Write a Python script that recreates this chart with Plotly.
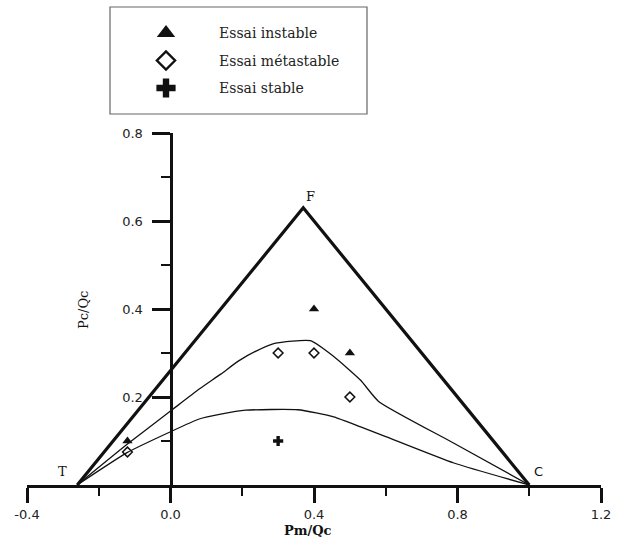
import plotly.graph_objects as go

# ---- data -------------------------------------------------------------
# Boundary triangle (T - F - C) in the Pm/Qc - Pc/Qc plane
tri_x = [-0.26, 0.37, 1.00]
tri_y = [0.00, 0.63, 0.00]
tri_labels = ["T", "F", "C"]

# Upper thin curve (métastable / instable limit)
upper_x = [-0.26, -0.12, 0.00, 0.08, 0.14, 0.19, 0.24, 0.29, 0.39, 0.455, 0.53, 0.58, 0.79, 1.00]
upper_y = [0.000, 0.093, 0.168, 0.218, 0.252, 0.282, 0.305, 0.322, 0.328, 0.292, 0.238, 0.190, 0.095, 0.000]

# Lower thin curve (stable / métastable limit)
lower_x = [-0.26, -0.12, 0.00, 0.08, 0.14, 0.21, 0.355, 0.455, 0.53, 0.60, 0.79, 1.00]
lower_y = [0.000, 0.074, 0.121, 0.150, 0.161, 0.170, 0.171, 0.155, 0.132, 0.110, 0.050, 0.000]

# Test results
instable_x = [-0.12, 0.40, 0.50]
instable_y = [0.10, 0.40, 0.30]
metastable_x = [-0.12, 0.30, 0.40, 0.50]
metastable_y = [0.075, 0.30, 0.30, 0.20]
stable_x = [0.30]
stable_y = [0.10]

series_names = ["Essai instable", "Essai métastable", "Essai stable"]

# Axis ticks
x_ticks = [-0.4, 0.0, 0.4, 0.8, 1.2]
x_tick_text = ["-0.4", "0.0", "0.4", "0.8", "1.2"]
x_minor = [-0.2, 0.2, 0.6, 1.0]
y_ticks = [0.2, 0.4, 0.6, 0.8]
y_tick_text = ["0.2", "0.4", "0.6", "0.8"]
y_minor = [0.1, 0.3, 0.5, 0.7]

# ---- figure geometry (pixels) ------------------------------------------
W, H = 617, 538
AX_LEFT, AX_RIGHT = 27, 601      # x = -0.4 ... 1.2
AX_BOTTOM, AX_TOP = 485, 133     # y = 0 ... 0.8
Y_AXIS_PX = 170.5                # where x = 0 sits

INK = "#111111"
TICK_FONT = dict(family="DejaVu Sans", size=13, color="#222222")
SERIF = "DejaVu Serif"

styles = {
    "Essai instable": dict(symbol="triangle-up", color=INK, size=9, line=dict(width=0)),
    "Essai métastable": dict(symbol="diamond-open", color=INK, size=7.5, line=dict(width=1.5, color=INK)),
    "Essai stable": dict(symbol="cross", color=INK, size=8.5, line=dict(width=0)),
}

fig = go.Figure()

# Thick outer triangle T-F-C
fig.add_trace(go.Scatter(x=tri_x, y=tri_y, mode="lines",
                         line=dict(color=INK, width=3.2), hoverinfo="skip",
                         showlegend=False))
# Thin limit curves
for cx, cy in [(upper_x, upper_y), (lower_x, lower_y)]:
    fig.add_trace(go.Scatter(x=cx, y=cy, mode="lines",
                             line=dict(color=INK, width=1.3, shape="spline",
                                       smoothing=0.5),
                             hoverinfo="skip", showlegend=False))

# Test points
for name, xs, ys in [("Essai instable", instable_x, instable_y),
                     ("Essai métastable", metastable_x, metastable_y),
                     ("Essai stable", stable_x, stable_y)]:
    fig.add_trace(go.Scatter(x=xs, y=ys, mode="markers", name=name,
                             marker=styles[name], showlegend=False,
                             cliponaxis=False))

# Vertex labels
label_offsets = {"T": (-0.04, 0.03), "F": (0.02, 0.025), "C": (0.027, 0.03)}
for lab, vx, vy in zip(tri_labels, tri_x, tri_y):
    dx, dy = label_offsets[lab]
    fig.add_annotation(x=vx + dx, y=vy + dy, text=lab, showarrow=False,
                       font=dict(family=SERIF if lab != "C" else "DejaVu Sans",
                                 size=13, color=INK),
                       xanchor="center", yanchor="middle")

# ---- legend block drawn in pixel space ---------------------------------
LEG_BOX = (110, 7, 367, 114)
LEG_SYM_X, LEG_TEXT_X, LEG_ROW0, LEG_ROW_GAP = 166, 217, 33, 27.5
leg_rows = [LEG_ROW0 + i * LEG_ROW_GAP for i in range(len(series_names))]

fig.add_shape(type="rect", xref="paper", yref="paper",
              x0=LEG_BOX[0] / W, x1=LEG_BOX[2] / W,
              y0=1 - LEG_BOX[3] / H, y1=1 - LEG_BOX[1] / H,
              line=dict(color="#666666", width=1.2), fillcolor="rgba(0,0,0,0)")

for name, ry in zip(series_names, leg_rows):
    st = dict(styles[name])
    st["size"] = 16
    if name == "Essai métastable":
        st["size"] = 14
        st["line"] = dict(width=2.4, color=INK)
    fig.add_trace(go.Scatter(x=[LEG_SYM_X], y=[ry], mode="markers",
                             marker=st, xaxis="x2", yaxis="y2",
                             showlegend=False, hoverinfo="skip",
                             cliponaxis=False))
    fig.add_annotation(xref="paper", yref="paper", x=LEG_TEXT_X / W, y=1 - ry / H,
                       text=name, showarrow=False, xanchor="left", yanchor="middle",
                       font=dict(family=SERIF, size=14, color="#222222"))

# Axis titles
fig.add_annotation(xref="paper", yref="paper", x=83 / W, y=1 - 310 / H,
                   text="Pc/Qc", textangle=-90, showarrow=False,
                   font=dict(family=SERIF, size=13, color=INK),
                   xanchor="center", yanchor="middle")
fig.add_annotation(xref="paper", yref="paper", x=308 / W, y=1 - 530 / H,
                   text="<b>Pm/Qc</b>", showarrow=False,
                   font=dict(family=SERIF, size=13, color=INK),
                   xanchor="center", yanchor="middle")

fig.update_layout(
    width=W, height=H,
    margin=dict(l=0, r=0, t=0, b=0, pad=0),
    paper_bgcolor="white", plot_bgcolor="rgba(0,0,0,0)",
    showlegend=False,
    xaxis=dict(domain=[AX_LEFT / W, AX_RIGHT / W], range=[-0.4, 1.2],
               anchor="y", showline=True, linewidth=3, linecolor=INK,
               ticks="outside", ticklen=15, tickwidth=2.5, tickcolor=INK,
               tickvals=x_ticks, ticktext=x_tick_text, tickfont=TICK_FONT,
               ticklabelstandoff=0,
               minor=dict(tickvals=x_minor, ticks="outside", ticklen=8,
                          tickwidth=2, tickcolor=INK, showgrid=False),
               showgrid=False, zeroline=False, automargin=False),
    yaxis=dict(domain=[(H - AX_BOTTOM) / H, (H - AX_TOP) / H], range=[0, 0.8],
               anchor="free", position=Y_AXIS_PX / W,
               showline=True, linewidth=3, linecolor=INK,
               ticks="outside", ticklen=18, tickwidth=2.5, tickcolor=INK,
               tickvals=y_ticks, ticktext=y_tick_text, tickfont=TICK_FONT,
               ticklabelstandoff=6,
               minor=dict(tickvals=y_minor, ticks="outside", ticklen=9,
                          tickwidth=2, tickcolor=INK, showgrid=False),
               showgrid=False, zeroline=False, automargin=False),
    xaxis2=dict(domain=[0, 1], range=[0, W], visible=False, anchor="y2",
                fixedrange=True),
    yaxis2=dict(domain=[0, 1], range=[H, 0], visible=False, anchor="x2",
                fixedrange=True),
)

fig.write_html("out.html")
